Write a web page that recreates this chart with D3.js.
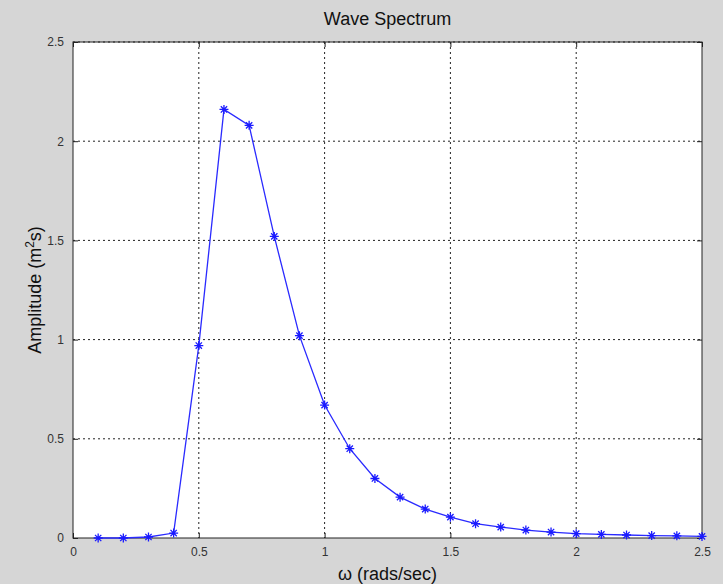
<!DOCTYPE html>
<html>
<head>
<meta charset="utf-8">
<script src="https://cdn.jsdelivr.net/npm/d3@7"></script>
<style>
  body { margin: 0; background: #d6d6d6; }
  svg { display: block; font-family: "Liberation Sans", Arial, sans-serif; }
</style>
</head>
<body>
<div id="chart"></div>
<script>
// omega (rads/sec) and spectrum amplitude (m^2 s)
const omega = [0.1, 0.2, 0.3, 0.4, 0.5, 0.6, 0.7, 0.8, 0.9, 1.0, 1.1, 1.2, 1.3,
  1.4, 1.5, 1.6, 1.7, 1.8, 1.9, 2.0, 2.1, 2.2, 2.3, 2.4, 2.5];
const amplitude = [0, 0, 0.005, 0.025, 0.97, 2.16, 2.08, 1.52, 1.02, 0.67, 0.45, 0.30, 0.206,
  0.146, 0.105, 0.072, 0.055, 0.04, 0.03, 0.022, 0.018, 0.015, 0.012, 0.011, 0.008];
const xTicks = [0, 0.5, 1, 1.5, 2, 2.5];
const yTicks = [0, 0.5, 1, 1.5, 2, 2.5];

const W = 723, H = 584;
const margin = { top: 42, right: 21, bottom: 46, left: 73 };
const width = W - margin.left - margin.right;
const height = H - margin.top - margin.bottom;

const svg = d3.select("#chart").append("svg")
  .attr("width", W)
  .attr("height", H);

const g = svg.append("g")
  .attr("transform", `translate(${margin.left},${margin.top})`);

const x = d3.scaleLinear().domain([0, 2.5]).range([0, width]);
const y = d3.scaleLinear().domain([0, 2.5]).range([height, 0]);

g.append("rect")
  .attr("width", width)
  .attr("height", height)
  .attr("fill", "#fff");

// dotted grid
g.append("g").selectAll("line")
  .data(xTicks.slice(1, -1))
  .join("line")
  .attr("x1", d => x(d)).attr("x2", d => x(d))
  .attr("y1", 0).attr("y2", height)
  .attr("stroke", "#222")
  .attr("stroke-dasharray", "2,3");

g.append("g").selectAll("line")
  .data(yTicks.slice(1))
  .join("line")
  .attr("y1", d => y(d)).attr("y2", d => y(d))
  .attr("x1", 0).attr("x2", width)
  .attr("stroke", "#222")
  .attr("stroke-dasharray", "2,3");

// axes, ticks pointing inward like matlab
const axisStyle = sel => {
  sel.select(".domain").remove();
  sel.selectAll(".tick line").attr("stroke", "#222");
  sel.selectAll(".tick text").attr("fill", "#333").style("font-size", "12px");
};

g.append("g")
  .attr("transform", `translate(0,${height})`)
  .call(d3.axisBottom(x).tickValues(xTicks).tickSize(-5).tickPadding(9).tickFormat(d3.format("")))
  .call(axisStyle);

g.append("g")
  .call(d3.axisLeft(y).tickValues(yTicks).tickSize(-5).tickPadding(9).tickFormat(d3.format("")))
  .call(axisStyle);

g.append("g")
  .call(d3.axisTop(x).tickValues(xTicks).tickSize(-5).tickFormat(""))
  .call(axisStyle);

g.append("g")
  .attr("transform", `translate(${width},0)`)
  .call(d3.axisRight(y).tickValues(yTicks).tickSize(-5).tickFormat(""))
  .call(axisStyle);

g.append("rect")
  .attr("width", width)
  .attr("height", height)
  .attr("fill", "none")
  .attr("stroke", "#222")
  .attr("stroke-width", 1);

const data = omega.map((w, i) => [w, amplitude[i]]);

const line = d3.line()
  .x(d => x(d[0]))
  .y(d => y(d[1]));

g.append("path")
  .datum(data)
  .attr("fill", "none")
  .attr("stroke", "#2a2aff")
  .attr("stroke-width", 1.3)
  .attr("d", line);

// asterisk markers
const s = 4.5;
const star = `M${-s},0H${s}M0,${-s}V${s}M${-s * 0.7},${-s * 0.7}L${s * 0.7},${s * 0.7}M${-s * 0.7},${s * 0.7}L${s * 0.7},${-s * 0.7}`;
g.append("g").selectAll("path")
  .data(data)
  .join("path")
  .attr("transform", d => `translate(${x(d[0])},${y(d[1])})`)
  .attr("d", star)
  .attr("stroke", "#1a1aff")
  .attr("stroke-width", 1.3)
  .attr("fill", "none");

// labels
svg.append("text")
  .attr("x", margin.left + width / 2)
  .attr("y", 25)
  .attr("text-anchor", "middle")
  .style("font-size", "18px")
  .attr("fill", "#111")
  .text("Wave Spectrum");

svg.append("text")
  .attr("x", margin.left + width / 2)
  .attr("y", 580)
  .attr("text-anchor", "middle")
  .style("font-size", "18px")
  .attr("fill", "#111")
  .text("ω (rads/sec)");

const yl = svg.append("text")
  .attr("transform", `translate(41,${margin.top + height / 2}) rotate(-90)`)
  .attr("text-anchor", "middle")
  .style("font-size", "18px")
  .attr("fill", "#111");
yl.append("tspan").text("Amplitude (m");
yl.append("tspan").attr("dy", -7).style("font-size", "12px").text("2");
yl.append("tspan").attr("dy", 7).text("s)");
</script>
</body>
</html>
